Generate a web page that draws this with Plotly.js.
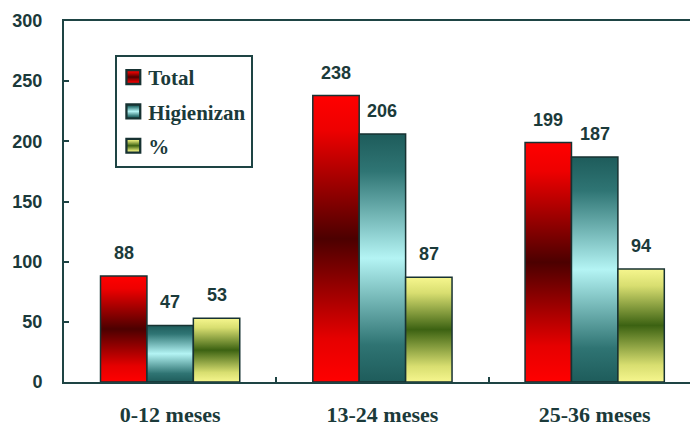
<!DOCTYPE html>
<html>
<head>
<meta charset="utf-8">
<script src="https://cdn.plot.ly/plotly-3.0.1.min.js"></script>
<style>
  html, body { margin: 0; padding: 0; background: #ffffff; }
  #chart { width: 690px; height: 428px; }
</style>
</head>
<body>
<div id="chart"></div>
<script>
// Age groups and counts per group
const categories = ['0-12 meses', '13-24 meses', '25-36 meses'];
const seriesNames = ['Total', 'Higienizan', '%'];
const totalValues = [88, 238, 199];
const higienizanValues = [47, 206, 187];
const percentValues = [53, 87, 94];
const yTickValues = [0, 50, 100, 150, 200, 250, 300];

const allSeries = [totalValues, higienizanValues, percentValues];
const baseColors = ['#ff0000', '#2a7070', '#f0f080'];

// Vertical shading for each series: light edges, deep centre
const gradientStops = [
  [[0, '#ff0000'], [0.12, '#ee0000'], [0.5, '#4c0000'], [0.85, '#e60000'], [1, '#ff0000']],
  [[0, '#1e5c5b'], [0.15, '#2f7574'], [0.5, '#b4f4f4'], [0.85, '#2f7473'], [1, '#1e5c5b']],
  [[0, '#f6f68e'], [0.15, '#d8de70'], [0.5, '#3c6212'], [0.85, '#d8de70'], [1, '#f6f68e']]
];

const ink = '#1b3a3a';
const bargap = 0.344;
const barWidth = (1 - bargap) / allSeries.length;

const traces = allSeries.map((vals, i) => ({
  type: 'bar',
  name: seriesNames[i],
  legendgroup: 'g' + i,
  x: categories,
  y: vals,
  marker: { color: baseColors[i], line: { color: '#173232', width: 1.5 } },
  hoverinfo: 'none'
}));

// Value labels above each bar
const annotations = [];
allSeries.forEach((vals, s) => {
  vals.forEach((v, c) => {
    annotations.push({
      xref: 'x', yref: 'y',
      x: c + (s - (allSeries.length - 1) / 2) * barWidth,
      y: v,
      text: String(v),
      showarrow: false,
      yanchor: 'bottom',
      yshift: 11,
      font: { family: 'Liberation Sans, Arial, sans-serif', size: 18, weight: 'bold', color: ink }
    });
  });
});

const layout = {
  width: 690,
  height: 428,
  margin: { l: 64, r: 0, t: 21, b: 46 },
  paper_bgcolor: '#ffffff',
  plot_bgcolor: '#ffffff',
  barmode: 'group',
  bargap: bargap,
  bargroupgap: 0,
  showlegend: true,
  legend: {
    x: 0.082, y: 0.906, xanchor: 'left', yanchor: 'top',
    bgcolor: '#ffffff',
    bordercolor: '#1e4444',
    borderwidth: 2,
    tracegroupgap: 4,
    font: { family: 'Liberation Serif, Times New Roman, serif', size: 21, weight: 'bold', color: ink }
  },
  xaxis: {
    type: 'category',
    range: [-0.5, 2.449],
    showline: true, linecolor: '#1e4444', linewidth: 2, mirror: true,
    showgrid: false, zeroline: false,
    ticks: 'inside', tickson: 'boundaries', ticklen: 5, tickwidth: 2, tickcolor: '#1e4444',
    ticklabelstandoff: 12,
    tickfont: { family: 'Liberation Serif, Times New Roman, serif', size: 22, weight: 'bold', color: ink }
  },
  yaxis: {
    range: [0, 300],
    tickvals: yTickValues,
    showline: true, linecolor: '#1e4444', linewidth: 2,
    showgrid: false, zeroline: false,
    ticks: 'inside', ticklen: 5, tickwidth: 2, tickcolor: '#1e4444',
    ticklabelstandoff: 16,
    tickfont: { family: 'Liberation Sans, Arial, sans-serif', size: 18, weight: 'bold', color: ink }
  },
  annotations: annotations
};

Plotly.newPlot('chart', traces, layout, { staticPlot: true, displayModeBar: false }).then(gd => {
  const svgNS = 'http://www.w3.org/2000/svg';
  const svg = gd.querySelector('.main-svg');
  let defs = svg.querySelector('defs');
  if (!defs) { defs = document.createElementNS(svgNS, 'defs'); svg.insertBefore(defs, svg.firstChild); }

  gradientStops.forEach((stops, i) => {
    const g = document.createElementNS(svgNS, 'linearGradient');
    g.setAttribute('id', 'barShade' + i);
    g.setAttribute('x1', '0'); g.setAttribute('y1', '0');
    g.setAttribute('x2', '0'); g.setAttribute('y2', '1');
    stops.forEach(([off, col]) => {
      const st = document.createElementNS(svgNS, 'stop');
      st.setAttribute('offset', off);
      st.setAttribute('stop-color', col);
      g.appendChild(st);
    });
    defs.appendChild(g);
  });

  // shade the bars
  gd.querySelectorAll('.barlayer .trace').forEach((tr, i) => {
    tr.querySelectorAll('.point path').forEach(p => { p.style.fill = 'url(#barShade' + i + ')'; });
  });

  // legend: shaded, slightly larger swatches set closer to the text
  const shift = 9;
  gd.querySelectorAll('.legend .traces').forEach((tr, i) => {
    tr.querySelectorAll('.legendpoints path').forEach(p => {
      p.style.fill = 'url(#barShade' + i + ')';
      p.style.strokeWidth = '2px';
    });
    const pts = tr.querySelector('.legendpoints');
    if (pts) pts.setAttribute('transform', 'translate(' + (-shift + 2) + ',0) scale(1.15)');
    const txt = tr.querySelector('.legendtext');
    if (txt) txt.setAttribute('x', parseFloat(txt.getAttribute('x')) - shift);
  });
  const bg = gd.querySelector('.legend .bg');
  if (bg) bg.setAttribute('width', parseFloat(bg.getAttribute('width')) - shift);
});
</script>
</body>
</html>
